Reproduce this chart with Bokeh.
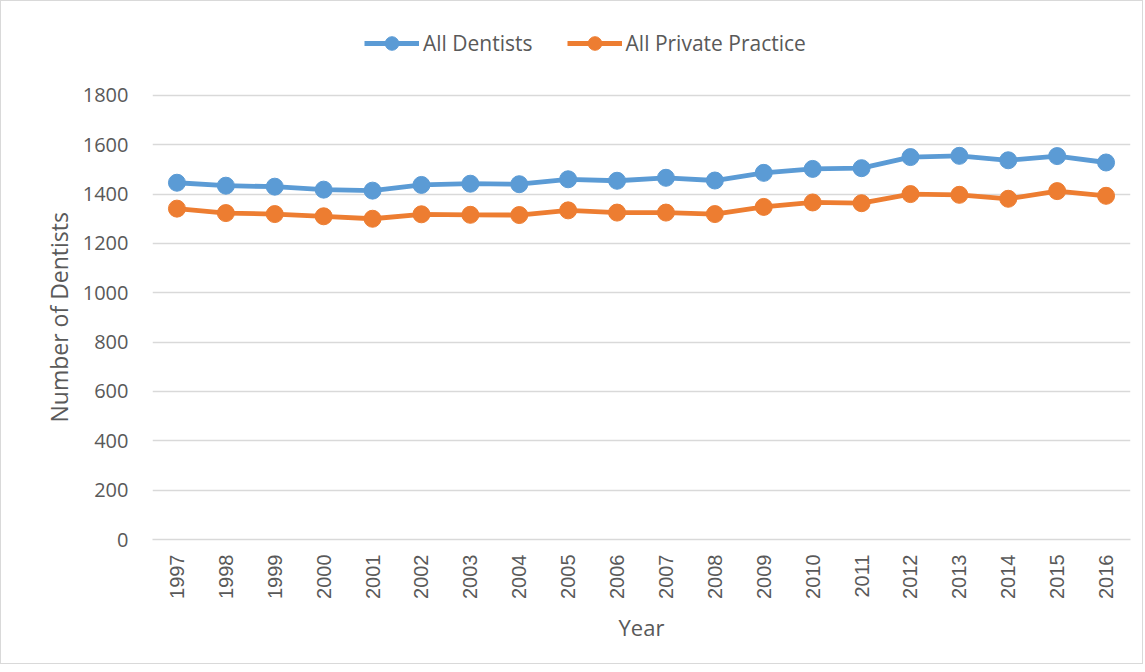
import math
from bokeh.plotting import figure
from bokeh.models import Legend, LegendItem, Range1d, FixedTicker, Title
from bokeh.embed import file_html
from bokeh.resources import INLINE

years = [str(y) for y in range(1997, 2017)]
all_dentists = [1446, 1434, 1430, 1418, 1414, 1437, 1442, 1440, 1460, 1454,
                1466, 1455, 1486, 1502, 1505, 1550, 1555, 1537, 1554, 1528]
all_private = [1341, 1323, 1319, 1310, 1300, 1318, 1316, 1315, 1334, 1325,
               1325, 1319, 1348, 1366, 1363, 1400, 1397, 1381, 1412, 1393]
y_ticks = [0, 200, 400, 600, 800, 1000, 1200, 1400, 1600, 1800]

BLUE = "#5B9BD5"
ORANGE = "#ED7D31"
TXT = "#595959"

p = figure(x_range=years, width=1143, height=664, output_backend="svg",
           toolbar_location=None, min_border_left=151, min_border_right=14,
           min_border_top=10, min_border_bottom=126)
p.styles = {"border": "1px solid #d9d9d9"}
# extra head-room above 1800 holds the legend (no gridline is drawn there)
p.y_range = Range1d(0, 2140)
p.outline_line_color = None

l1 = p.line(years, all_dentists, line_color=BLUE, line_width=4.8)
c1 = p.scatter(years, all_dentists, size=17, fill_color=BLUE, line_color=BLUE)
l2 = p.line(years, all_private, line_color=ORANGE, line_width=4.8)
c2 = p.scatter(years, all_private, size=17, fill_color=ORANGE, line_color=ORANGE)

p.yaxis.ticker = FixedTicker(ticks=y_ticks)
p.yaxis.axis_line_color = None
p.yaxis.major_tick_line_color = None
p.yaxis.minor_tick_line_color = None
p.yaxis.major_label_text_font = "Open Sans"
p.yaxis.major_label_text_font_size = "20px"
p.yaxis.major_label_text_color = TXT
p.yaxis.major_label_standoff = 18

ytitle = Title(text="Number of Dentists", align="left", offset=117,
               text_font="Open Sans", text_font_style="normal",
               text_font_size="23px", text_color=TXT)
p.add_layout(ytitle, "left")

p.xaxis.axis_line_color = "#d9d9d9"
p.xaxis.axis_line_width = 1.5
p.xaxis.major_tick_line_color = None
p.xaxis.minor_tick_line_color = None
p.xaxis.major_label_orientation = math.pi / 2
p.xaxis.major_label_text_font = "Liberation Sans"
p.xaxis.major_label_text_font_size = "20px"
p.xaxis.major_label_text_color = TXT
p.xaxis.major_label_standoff = 9
p.xaxis.axis_label = "Year"
p.xaxis.axis_label_text_font = "Open Sans"
p.xaxis.axis_label_text_font_style = "normal"
p.xaxis.axis_label_text_font_size = "22px"
p.xaxis.axis_label_text_color = TXT
p.xaxis.axis_label_standoff = 10

p.xgrid.grid_line_color = None
p.ygrid.grid_line_color = "#d9d9d9"
p.ygrid.grid_line_width = 1.5

legend = Legend(items=[LegendItem(label="All Dentists", renderers=[l1, c1]),
                       LegendItem(label="All Private Practice", renderers=[l2, c2])],
                orientation="horizontal", location=(212, 479),
                label_text_font="Open Sans", label_text_font_size="21px",
                label_text_color=TXT, glyph_width=55, glyph_height=34,
                label_standoff=4, spacing=34, border_line_color=None,
                background_fill_alpha=0, margin=0, padding=2)
p.add_layout(legend, "center")

open("out.html", "w").write(file_html(p, INLINE))
